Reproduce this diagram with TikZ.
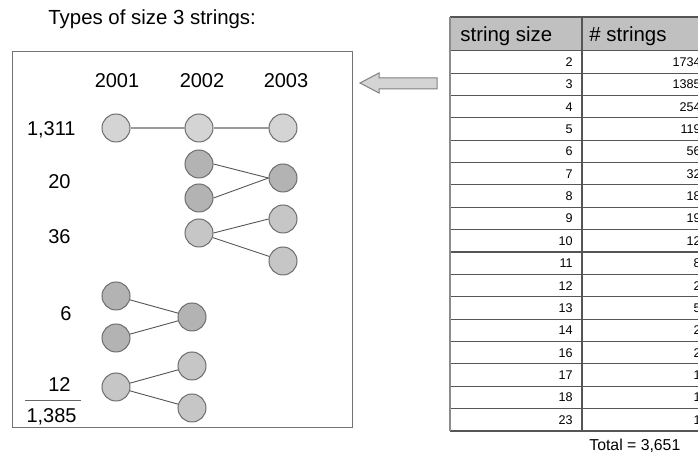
\documentclass[tikz,border=0pt]{standalone}
\usepackage{fontspec}
\setmainfont{Liberation Sans}
\definecolor{lightA}{HTML}{D4D4D4}
\definecolor{lightB}{HTML}{C6C6C6}
\definecolor{darkA}{HTML}{B3B3B3}
\definecolor{rim}{HTML}{6E6E6E}
\definecolor{hdr}{HTML}{C0C0C0}
\definecolor{tline}{HTML}{555555}
\begin{document}
\begin{tikzpicture}[x=0.5pt,y=-0.5pt,
  dot/.style={circle,draw=rim,line width=0.5pt,minimum size=14pt,inner sep=0pt},
  dotA/.style={dot,fill=lightA},
  dotB/.style={dot,fill=lightB},
  dotD/.style={dot,fill=darkA},
  link/.style={draw=tline,line width=0.45pt},
  linkA/.style={draw=black!40,line width=0.7pt},
  big/.style={inner sep=0pt,font=\fontsize{10}{12}\selectfont,text height=7.2pt,text depth=0pt},
  small/.style={inner sep=0pt,font=\fontsize{6.3}{7.5}\selectfont,text height=4.5pt,text depth=0pt,anchor=east},
  ]
\useasboundingbox (0,0) rectangle (698,454);
\fill[white] (0,0) rectangle (698,454);

% title
\node[big,anchor=west,font=\fontsize{10.2}{12}\selectfont] (title) at (48,17) {Types of size 3 strings:};

% left box
\draw[draw=black!55,line width=0.5pt] (12,52) rectangle (352,428);

% years
\node[big] (y1) at (117,80) {2001};
\node[big] (y2) at (202,80) {2002};
\node[big] (y3) at (286,80) {2003};

% counts
\node[big,anchor=east] (n1) at (76,128) {1,311};
\node[big,anchor=east] (n2) at (71,181) {20};
\node[big,anchor=east] (n3) at (71,236) {36};
\node[big,anchor=east] (n4) at (72,313) {6};
\node[big,anchor=east] (n5) at (71,384) {12};
\node[big,anchor=east] (n6) at (77,415) {1,385};
\draw[draw=black!60,line width=0.5pt] (25,401) -- (81,401);

% circles
\node[dotA] (a1) at (116,128) {};
\node[dotA] (a2) at (199,128) {};
\node[dotA] (a3) at (283,128) {};
\node[dotD] (b1) at (199,164) {};
\node[dotD] (b2) at (199,198) {};
\node[dotD] (b3) at (283,178) {};
\node[dotB] (c1) at (199,233) {};
\node[dotB] (c2) at (283,219) {};
\node[dotB] (c3) at (283,261) {};
\node[dotD] (d1) at (116,296) {};
\node[dotD] (d2) at (116,338) {};
\node[dotD] (d3) at (192,317) {};
\node[dotB] (e1) at (116,387) {};
\node[dotB] (e2) at (192,366) {};
\node[dotB] (e3) at (192,408) {};

\draw[linkA] (a1) -- (a2);
\draw[linkA] (a2) -- (a3);
\draw[link] (b1.east) -- (b3.west);
\draw[link] (b2.east) -- (b3.west);
\draw[link] (c1.east) -- (c2.west);
\draw[link] (c1) -- (c3);
\draw[link] (d1) -- (d3);
\draw[link] (d2) -- (d3);
\draw[link] (e1) -- (e2);
\draw[link] (e1) -- (e3);

% arrow
\draw[draw=black!50,fill=lightA,line width=0.5pt]
  (360,83) -- (379,73) -- (379,78) -- (437,78) -- (437,89) -- (379,89) -- (379,93) -- cycle;

% table
\fill[hdr] (450,17) rectangle (698,50.7);
\foreach \k in {0,...,17} {
  \draw[draw=tline,line width=0.55pt] (450,50.7+22.37*\k) -- (698,50.7+22.37*\k);
}
\draw[draw=tline,line width=0.55pt] (450,17) -- (698,17);
\draw[draw=tline,line width=0.55pt] (582,17) -- (582,431);
\draw[draw=black!45,line width=1pt] (450,17) -- (450,431);

\node[big,anchor=west,font=\fontsize{10.2}{12}\selectfont] (h1) at (460,34) {string size};
\node[big,anchor=west,font=\fontsize{10.2}{12}\selectfont] (h2) at (589,34) {\# strings};

\foreach \s/\c [count=\i from 0] in {2/1734,3/1385,4/254,5/119,6/56,7/32,8/18,9/19,10/12,11/8,12/2,13/5,14/2,16/2,17/1,18/1,23/1} {
  \node[small] (s\i) at (573,50.7+22.37*\i+11.2) {\s};
  \node[small] (c\i) at (701,50.7+22.37*\i+11.2) {\c};
}

\node[big,anchor=west,font=\fontsize{7.9}{10}\selectfont,text height=5.7pt] (total) at (589,445) {Total = 3,651};
\end{tikzpicture}
\end{document}
